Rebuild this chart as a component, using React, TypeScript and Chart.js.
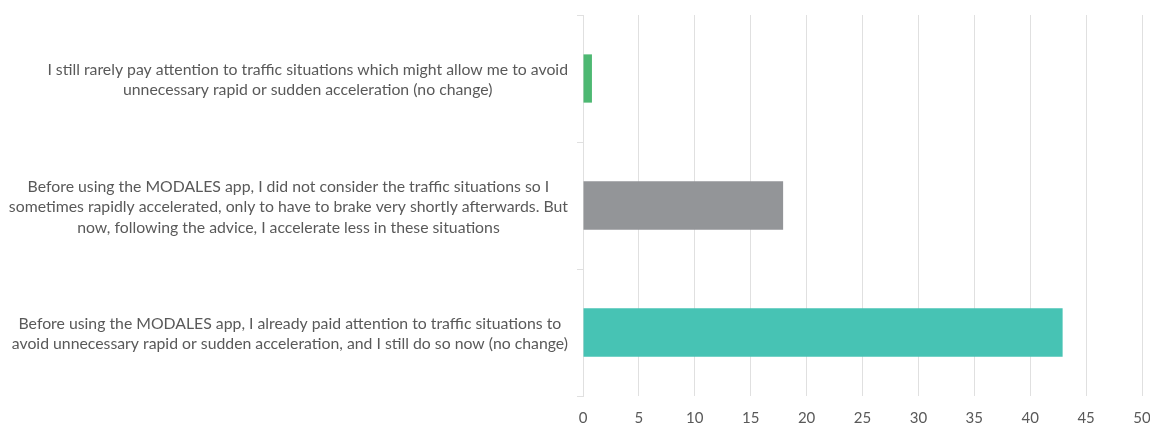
import React, { useEffect, useRef } from "react";
import { Chart, registerables } from "chart.js";

Chart.register(...registerables);

const categories: string[][] = [
  [
    "I still rarely pay attention to traffic situations which might allow me to avoid",
    "unnecessary rapid or sudden acceleration (no change)",
  ],
  [
    "Before using the MODALES app, I did not consider the traffic situations so I",
    "sometimes rapidly accelerated, only to have to brake very shortly afterwards. But",
    "now, following the advice, I accelerate less in these situations",
  ],
  [
    "Before using the MODALES app, I already paid attention to traffic situations to",
    "avoid unnecessary rapid or sudden acceleration, and I still do so now (no change)",
  ],
];
const values: number[] = [0.8, 17.9, 42.9];
const barColors: string[] = ["#4db872", "#939598", "#47c3b4"];

const FONT = "Lato, 'Open Sans', sans-serif";
const TEXT_COLOR = "#595959";
const GRID_COLOR = "#e0e0e0";

const labelPlugin = {
  id: "blockLabels",
  afterDraw(chart: any) {
    const ctx = chart.ctx;
    const yScale = chart.scales.y;
    const rightX = chart.chartArea.left - 15;
    const lineH = 20.5;
    ctx.save();
    ctx.font = `15.8px ${FONT}`;
    ctx.fillStyle = TEXT_COLOR;
    ctx.textAlign = "center";
    ctx.textBaseline = "middle";
    categories.forEach((lines, i) => {
      const cy = yScale.getPixelForValue(i);
      const widest = Math.max(...lines.map((l) => ctx.measureText(l).width));
      const cx = rightX - widest / 2;
      const startY = cy - ((lines.length - 1) * lineH) / 2 + 1.5;
      lines.forEach((l, j) => ctx.fillText(l, cx, startY + j * lineH));
    });
    ctx.restore();
  },
};

export default function App() {
  const ref = useRef<HTMLCanvasElement | null>(null);
  useEffect(() => {
    if (!ref.current) return;
    const chart = new Chart(ref.current, {
      type: "bar",
      data: {
        labels: categories.map((_, i) => String(i)),
        datasets: [
          {
            data: values,
            backgroundColor: barColors,
            borderWidth: 0,
            barPercentage: 0.38,
            categoryPercentage: 1,
          },
        ],
      },
      options: {
        indexAxis: "y",
        animation: false,
        responsive: false,
        maintainAspectRatio: false,
        layout: { autoPadding: false, padding: { top: 15, right: 8, bottom: 0, left: 0 } },
        plugins: { legend: { display: false }, tooltip: { enabled: false } },
        scales: {
          x: {
            min: 0,
            max: 50,
            ticks: {
              stepSize: 5,
              padding: 13,
              color: TEXT_COLOR,
              font: { family: FONT, size: 15 },
            },
            grid: { color: GRID_COLOR, drawTicks: false, lineWidth: 1 },
            border: { display: false },
            afterFit: (scale: any) => {
              scale.height = 30;
              scale.paddingRight = 0;
              scale.paddingLeft = 0;
            },
          },
          y: {
            ticks: { display: false },
            grid: {
              offset: true,
              drawOnChartArea: false,
              drawTicks: true,
              tickLength: 6,
              color: GRID_COLOR,
            },
            border: { display: true, color: GRID_COLOR },
            afterFit: (scale: any) => {
              scale.width = 583;
              scale.paddingTop = 0;
              scale.paddingBottom = 0;
            },
          },
        },
      },
      plugins: [labelPlugin],
    });
    return () => chart.destroy();
  }, []);
  return (
    <div style={{ position: "fixed", left: 0, top: 0, width: 1150, height: 426, background: "#fff", overflow: "hidden" }}>
      <canvas ref={ref} width={1150} height={426} style={{ display: "block", width: 1150, height: 426 }} />
    </div>
  );
}
